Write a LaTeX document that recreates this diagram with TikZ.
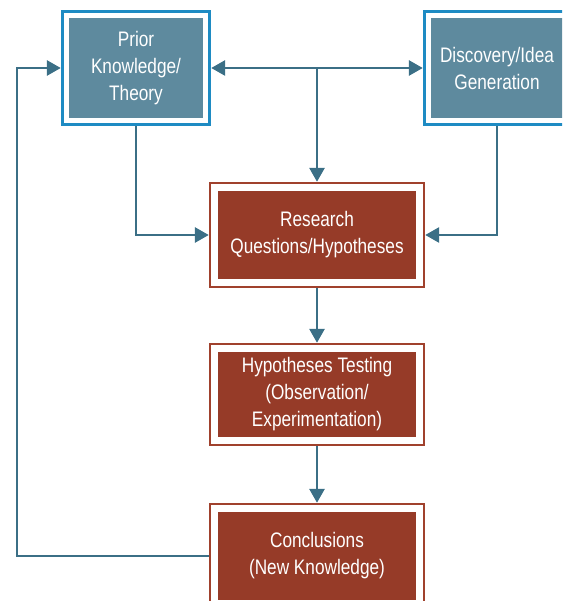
\documentclass[tikz,border=0pt]{standalone}
\usepackage{fontspec}
\setmainfont{Liberation Sans}[FakeStretch=0.82]
\usetikzlibrary{arrows.meta,fit}
\definecolor{bluefill}{HTML}{5E8A9E}
\definecolor{blueline}{HTML}{1E8BC3}
\definecolor{redfill}{HTML}{963B28}
\definecolor{redline}{HTML}{A0412D}
\definecolor{linkcol}{HTML}{3B6F86}
\begin{document}
\begin{tikzpicture}[x=1pt, y=-1pt,
    boxtext/.style={text=white, inner sep=0pt, align=center, font=\fontsize{21}{27}\selectfont},
    bluebox/.style={boxtext, fill=bluefill, minimum width=134pt, minimum height=100pt},
    redbox/.style={boxtext, fill=redfill, minimum width=198pt, minimum height=88pt},
    blueframe/.style={draw=blueline, line width=2.8pt, inner sep=6.6pt},
    redframe/.style={draw=redline, line width=2pt, inner sep=8pt},
    link/.style={draw=linkcol, line width=2.8pt, -{Triangle[length=14pt,width=15pt]}}]
        \useasboundingbox (0,0) rectangle (562,601);
        \clip (0,0) rectangle (562,601);
        \node[bluebox] (P) at (136, 68) {Prior\\Knowledge/\\Theory};
        \node[bluebox, minimum width=132pt] (D) at (497, 68) {Discovery/Idea\\Generation};
        \node[redbox] (R) at (317, 235) {Research\\Questions/Hypotheses};
        \node[redbox, minimum height=85pt] (H) at (317, 394.5) {Hypotheses Testing\\(Observation/\\Experimentation)};
        \node[redbox] (C) at (317, 556) {Conclusions\\(New Knowledge)};
        \node[blueframe, fit=(P)] (PF) {};
        \node[blueframe, fit=(D)] (DF) {};
        \node[redframe, fit=(R)] (RF) {};
        \node[redframe, fit=(H)] (HF) {};
        \node[redframe, fit=(C)] (CF) {};
        \coordinate (J) at (R.north |- P.east);
        \coordinate (L) at (17, 0);
        \draw[link] (J) -- (PF.east);
        \draw[link] (J) -- (DF.west);
        \draw[link] (J) -- (RF.north);
        \draw[link] (PF.south) |- (RF.west);
        \draw[link] (DF.south) |- (RF.east);
        \draw[link] (RF) -- (HF);
        \draw[link] (HF) -- (CF);
        \draw[link] (CF.west) -| (L |- PF.west) -- (PF.west);
    \end{tikzpicture}
\end{document}
